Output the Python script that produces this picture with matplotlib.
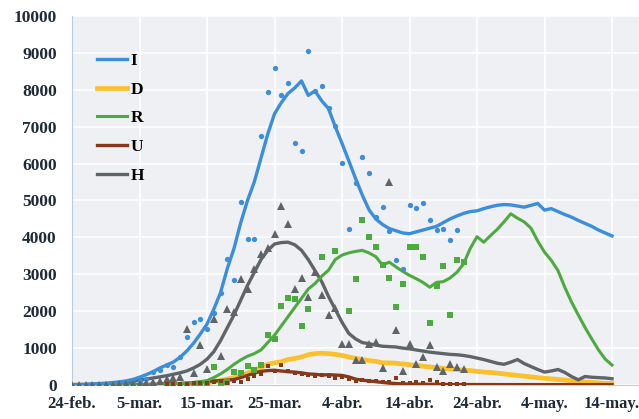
import numpy as np
import matplotlib
matplotlib.use("Agg")
import matplotlib.pyplot as plt

nan = np.nan

# x axis: days since 24-feb
tick_days = [0, 10, 20, 30, 40, 50, 60, 70, 80]
tick_labels = ['24-feb.', '5-mar.', '15-mar.', '25-mar.', '4-abr.', '14-abr.',
               '24-abr.', '4-may.', '14-may.']

# model curves, one value per day (day 0 .. 80)
i_model = [10, 15, 20, 30, 40, 50, 65, 85, 110, 150,
           210, 280, 360, 460, 540, 620, 750, 920, 1130, 1380,
           1650, 2050, 2500, 3150, 3700, 4400, 5000, 5500, 6150, 6800,
           7350, 7650, 7900, 8050, 8240, 7850, 7970, 7700, 7490, 7000,
           6550, 6080, 5600, 5150, 4750, 4500, 4350, 4240, 4180, 4120,
           4100, 4150, 4200, 4250, 4300, 4400, 4500, 4580, 4650, 4700,
           4720, 4780, 4830, 4870, 4890, 4880, 4850, 4820, 4870, 4920,
           4740, 4780, 4700, 4620, 4550, 4460, 4380, 4300, 4200, 4120,
           4040]
d_model = [0] * 17 + [10, 20, 40,
           60, 90, 120, 160, 200, 260, 320, 400, 480, 560,
           600, 630, 690, 720, 760, 820, 850, 860, 850, 830,
           800, 760, 720, 690, 660, 640, 600, 600, 590, 570,
           550, 530, 510, 490, 470, 450, 430, 420, 400, 390,
           370, 350, 340, 320, 300, 280, 260, 240, 220, 200,
           180, 165, 150, 135, 115, 100, 80, 70, 55, 45,
           40]
r_model = [0, 0, 0, 0, 0, 0, 0, 0, 0, 0,
           5, 10, 15, 20, 25, 30, 40, 55, 70, 90,
           120, 200, 300, 420, 560, 680, 780, 850, 950, 1150,
           1350, 1600, 1850, 2100, 2350, 2600, 2750, 2950, 3110, 3400,
           3520, 3580, 3620, 3650, 3580, 3480, 3250, 3330, 3200, 3080,
           2970, 2880, 2780, 2650, 2780, 2800, 2900, 3050, 3280, 3700,
           4020, 3870, 4050, 4220, 4420, 4640, 4520, 4420, 4250, 3900,
           3600, 3380, 3100, 2650, 2250, 1900, 1560, 1250, 950, 700,
           540]
u_model = [0, 0, 0, 0, 0, 0, 0, 5, 5, 10,
           10, 15, 15, 20, 25, 30, 40, 50, 60, 80,
           100, 110, 120, 130, 150, 200, 260, 320, 370, 390,
           400, 380, 360, 350, 330, 300, 290, 270, 280, 270,
           260, 220, 160, 130, 110, 90, 70, 50, 40, 30,
           25, 22, 20, 18, 16, 15, 14, 13, 12, 12,
           11, 11, 10, 10, 10, 10, 10, 10, 10, 10,
           10, 10, 10, 10, 10, 10, 10, 10, 10, 10,
           10]
h_model = [0, 5, 10, 15, 20, 30, 40, 55, 70, 100,
           135, 160, 190, 220, 250, 290, 330, 380, 460, 560,
           700, 900, 1200, 1550, 1900, 2300, 2700, 3050, 3400, 3650,
           3820, 3860, 3870, 3800, 3650, 3400, 3100, 2800, 2400, 2050,
           1700, 1400, 1250, 1150, 1120, 1080, 1050, 1040, 1030, 1000,
           980, 950, 920, 890, 870, 850, 830, 820, 800, 770,
           730, 690, 640, 590, 560, 620, 690, 580, 500, 420,
           350, 380, 420, 340, 230, 140, 230, 210, 200, 190,
           170]

# reported data
i_obs = [0, 0, 0, 0, 5, 10, 15, 25, 40, 60,
         100, 150, 350, 400, 540, 500, 770, 1300, 1710, 1800,
         1530, 1940, 2480, 3420, 2840, 4950, 3960, 3960, 6760, 7950,
         8580, 7860, 8180, 6550, 6330, 9040, 7970, 8110, 7500, 7010,
         6010, 4240, 5470, 6170, 5740, 4550, 4820, 4160, 3380, 3150,
         4890, 4800, 4940, 4480, 4210, 4230, 3940, 4190]
h_obs = [0, 0, 0, 0, 0, 5, 10, 15, 20, 30,
         40, 60, 80, 120, 160, 200, 225, 1510, 330, 1080,
         430, 1780, 775, 2070, 1980, 2860, 2610, 3140, 3550, 3700,
         4090, 4840, 4350, 2600, 2890, 2380, 3050, 2450, 1890, 2080,
         1110, 1110, 690, 670, 1110, 1170, 470, 5500, 1500, 380,
         1110, 580, 750, 1080, 500, 390, 580, 490, 440]
r_obs = [nan] * 14 + [0, 0, 0, 10,
         20, 20, 30, 480, 60, 80, 360, 315, 510, 420,
         540, 1350, 1260, 2130, 2370, 2340, 1590, 2070, nan, 3470,
         nan, 3630, nan, 2000, 2860, 4460, 4000, 3740, 3240, 2890,
         2120, 2750, 3740, 3750, 3470, 1680, 2690, 3220, 1890, 3380,
         3320]
u_obs = [nan] * 14 + [20, 30, 40, 40, 50, 60,
         50, 80, 100, 60, 120, 90, 150, 250, 300, 520,
         380, 550, 380, 320, 300, 270, 250, 260, 240, 200,
         220, 170, 120, 130, 100, 110, 90, 80, 180, 60,
         60, 80, 50, 140, 70, 40, 30, 20, 20]

c_i = '#3a8edb'
c_d = '#fbc02d'
c_r = '#4caa3f'
c_u = '#86391a'
c_h = '#5f6468'

fig = plt.figure(figsize=(6.39, 4.19), dpi=100)
ax = fig.add_axes([72 / 639, 1 - 385 / 419, 1 - 72 / 639, (385 - 16) / 419])
ax.set_facecolor('#eef0f3')

days = np.arange(len(i_model))

ax.plot(days, d_model, color=c_d, lw=3.4, label='D', zorder=3)
ax.plot(days, u_model, color=c_u, lw=2.4, label='U', zorder=3)
ax.plot(days, h_model, color=c_h, lw=2.4, label='H', zorder=3)
ax.plot(days, r_model, color=c_r, lw=2.2, label='R', zorder=3)
ax.plot(days, i_model, color=c_i, lw=2.4, label='I', zorder=3)

ax.plot(np.arange(len(i_obs)), i_obs, 'o', color=c_i, ms=3.8, mew=0, zorder=4)
ax.plot(np.arange(len(r_obs)), r_obs, 's', color=c_r, ms=3.8, mew=0, zorder=4)
ax.plot(np.arange(len(h_obs)), h_obs, '^', color=c_h, ms=6, mew=0, zorder=4)
ax.plot(np.arange(len(u_obs)), u_obs, 's', color=c_u, ms=2.8, mew=0, zorder=4)

ax.set_xlim(0, 84)
ax.set_ylim(0, 10000)
ax.set_xticks(tick_days)
ax.set_xticklabels(tick_labels)
ax.set_yticks(np.arange(0, 10001, 1000))
ax.grid(True, color='white', lw=1.2)
ax.set_axisbelow(True)
ax.tick_params(length=0, labelsize=12.5, colors='#1f2a38')
ax.tick_params(axis='x', labelsize=12, pad=8)
ax.tick_params(axis='y', pad=11)
for lab in ax.get_xticklabels() + ax.get_yticklabels():
    lab.set_family('Liberation Serif')
    lab.set_fontweight('bold')

for side in ['top', 'right']:
    ax.spines[side].set_visible(False)
ax.spines['left'].set_color('#b9cbe0')
ax.spines['bottom'].set_color('#b9cbe0')

handles, labels = ax.get_legend_handles_labels()
order = ['I', 'D', 'R', 'U', 'H']
hmap = dict(zip(labels, handles))
ax.legend([hmap[k] for k in order], order, loc='upper left',
          bbox_to_anchor=(97 / 639, 1 - 53 / 419), bbox_transform=fig.transFigure,
          frameon=False, handlelength=1.75, handletextpad=0.2, labelspacing=0.72,
          borderpad=0, borderaxespad=0,
          prop={'family': 'Liberation Serif', 'weight': 'bold', 'size': 12.5})

fig.savefig('out.png', dpi=100)
